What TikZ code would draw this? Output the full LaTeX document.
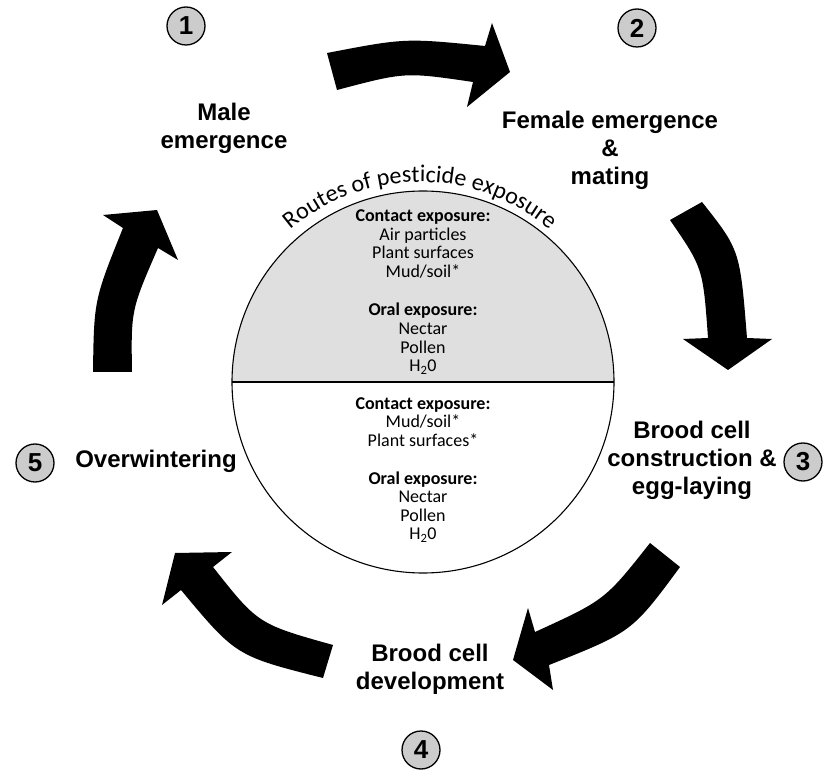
\documentclass[tikz,border=0pt]{standalone}
\usepackage{fontspec}
\setmainfont{Carlito}
\newfontfamily\arialfont{Liberation Sans}
\usetikzlibrary{decorations.text}
\definecolor{numgray}{gray}{0.8}
\definecolor{halfgray}{gray}{0.875}
\begin{document}
\begin{tikzpicture}[x=1pt,y=1pt,
  stage/.style={align=center,font=\arialfont\bfseries\fontsize{24}{28}\selectfont},
  num/.style={circle,draw,line width=1.3pt,fill=numgray,minimum size=38pt,inner sep=0pt,font=\arialfont\bfseries\fontsize{26}{26}\selectfont},
  route/.style={align=center,font=\fontsize{18}{18.6}\selectfont}]
\useasboundingbox(0,-770)rectangle(823,0);
\fill[halfgray](232,-382)arc(180:0:191)--cycle;
\draw[line width=1.1pt](423,-382)circle(191);
\draw[line width=1.4pt](232,-382)--(614,-382);
\path[decorate,decoration={text along path,text align=center,text={|\fontsize{24}{24}\selectfont|Routes of pesticide exposure}}](420,-382)++(145:200)arc(145:35:200);
\node[route](upper)at(423,-292){\textbf{Contact exposure:}\\Air particles\\Plant surfaces\\Mud/soil*\\[20pt]\textbf{Oral exposure:}\\Nectar\\Pollen\\H\textsubscript{2}0};
\node[route](lower)at(423,-470){\textbf{Contact exposure:}\\Mud/soil*\\Plant surfaces*\\[19pt]\textbf{Oral exposure:}\\Nectar\\Pollen\\H\textsubscript{2}0};
\node[stage](male)at(224,-128){Male\\emergence};
\node[stage](female)at(610,-150){Female emergence\\\&\\mating};
\node[stage](construct)at(692,-460){Brood cell\\construction \&\\egg-laying};
\node[stage](winter)at(156,-461){Overwintering};
\node[stage](develop)at(430,-669){Brood cell\\development};
\node[num](n1)at(186,-26){1};
\node[num](n2)at(637,-28){2};
\node[num](n3)at(803,-462){3};
\node[num](n4)at(421,-750){4};
\node[num](n5)at(35,-463){5};
\fill(327,-53).. controls(405,-38)..(485,-46)--(492,-23)--(510,-72)--(467,-107)--(473,-82).. controls(405,-72)..(337,-90)--cycle;
\fill(670,-220)--(702,-202).. controls(740,-250)..(747,-338)--(772,-339)--(728,-370)--(683,-339)--(708,-338).. controls(703,-268)..(670,-220)--cycle;
\fill(650,-543)--(680,-567).. controls(632,-632)..(549,-665)--(553,-690)--(513,-660)--(528,-608)--(535,-632).. controls(605,-600)..(650,-543)--cycle;
\fill(333,-645).. controls(258,-624)..(213,-567)--(232,-552)--(175,-553)--(162,-605)--(181,-590).. controls(236,-656)..(323,-678)--cycle;
\fill(93,-372).. controls(94,-300)..(123,-228)--(103,-215)--(157,-210)--(178,-260)--(158,-248).. controls(131,-310)..(132,-372)--cycle;
\end{tikzpicture}
\end{document}
